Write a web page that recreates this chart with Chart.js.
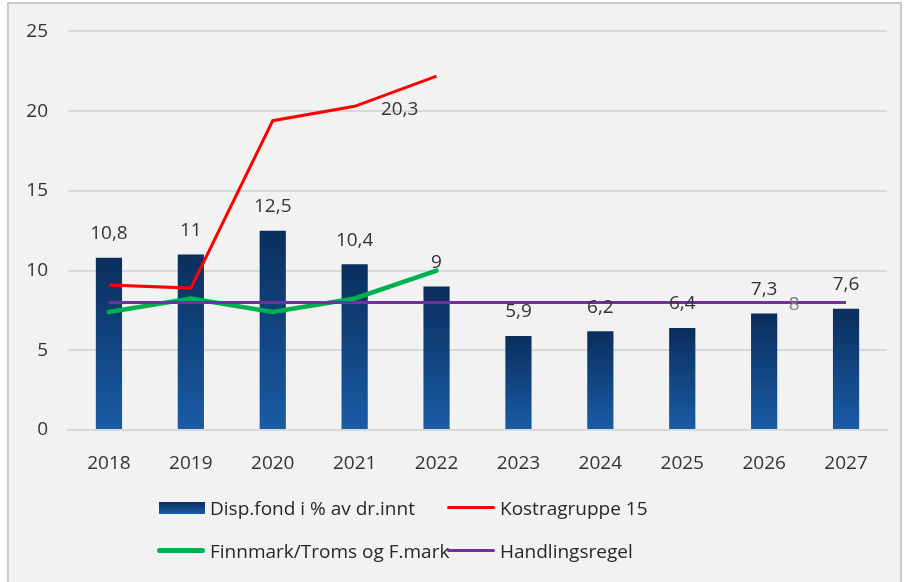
<!DOCTYPE html>
<html>
<head>
<meta charset="utf-8">
<script src="https://cdn.jsdelivr.net/npm/chart.js@4"></script>
<style>
  html, body { margin: 0; padding: 0; background: #ffffff; }
  body { width: 904px; height: 582px; position: relative; overflow: hidden; font-family: "Open Sans", sans-serif; }
  #frame { position: absolute; left: 7px; top: 2px; width: 891px; height: 600px; background: #f2f2f2; border: 2px solid #c9c9c9; }
  #chart-wrap { position: absolute; left: 0; top: 0; width: 904px; height: 582px; }
  #legend { position: absolute; left: 157px; top: 486px; display: grid; grid-template-columns: 290px auto; grid-auto-rows: 43px; color: #262626; font-size: 19px; }
  .item { display: flex; align-items: center; white-space: nowrap; }
  .swatch { width: 48px; margin-right: 5px; flex: none; }
</style>
</head>
<body>
<div id="frame"></div>
<div id="chart-wrap"><canvas id="chart" width="904" height="582"></canvas></div>
<div id="legend"></div>
<script>
// Chart data
const years = ['2018', '2019', '2020', '2021', '2022', '2023', '2024', '2025', '2026', '2027'];
const dispFond = [10.8, 11, 12.5, 10.4, 9, 5.9, 6.2, 6.4, 7.3, 7.6];
const kostra = [9.1, 8.9, 19.4, 20.3, 22.2, null, null, null, null, null];
const finnmark = [7.4, 8.25, 7.4, 8.25, 10, null, null, null, null, null];
const handlingsregel = [8, 8, 8, 8, 8, 8, 8, 8, 8, 8];
const yTicks = [0, 5, 10, 15, 20, 25];

const textColor = '#333333';
const tickFont = { family: 'Open Sans', size: 19 };

// Bar fill: dark at the top, lighter towards the base
function barGradient(context) {
    const chart = context.chart;
    const yScale = chart.scales.y;
    if (!yScale || !chart.chartArea) return '#0f4580';
    const value = context.raw;
    const top = yScale.getPixelForValue(value);
    const bottom = yScale.getPixelForValue(0);
    if (!isFinite(top) || !isFinite(bottom) || top === bottom) return '#0f4580';
    const g = chart.ctx.createLinearGradient(0, top, 0, bottom);
    g.addColorStop(0, '#0a2e5c');
    g.addColorStop(1, '#1a5ca6');
    return g;
}

function fmt(v) {
    return String(v).replace('.', ',');
}

// Draws the value labels that Excel showed
const valueLabels = {
    id: 'valueLabels',
    afterDatasetsDraw(chart) {
        const ctx = chart.ctx;
        ctx.save();
        ctx.font = '19px "Open Sans"';
        ctx.textAlign = 'center';
        ctx.textBaseline = 'middle';

        // bar labels
        const barMeta = chart.getDatasetMeta(0);
        ctx.fillStyle = textColor;
        barMeta.data.forEach((bar, i) => {
            ctx.fillText(fmt(dispFond[i]), bar.x, bar.y - 24);
        });

        // kostragruppe label at 2021
        const redMeta = chart.getDatasetMeta(1);
        const p = redMeta.data[3];
        ctx.fillText(fmt(kostra[3]), p.x + 45, p.y + 3);

        // handlingsregel label at 2026
        const purpleMeta = chart.getDatasetMeta(3);
        const q = purpleMeta.data[8];
        ctx.fillStyle = '#7f7f7f';
        ctx.fillText(fmt(handlingsregel[8]), q.x + 30, q.y + 2);
        ctx.restore();
    }
};

const chart = new Chart(document.getElementById('chart'), {
    data: {
        labels: years,
        datasets: [
            {
                type: 'bar',
                label: 'Disp.fond i % av dr.innt',
                data: dispFond,
                backgroundColor: barGradient,
                categoryPercentage: 1,
                barPercentage: 0.32,
                order: 4
            },
            {
                type: 'line',
                label: 'Kostragruppe 15',
                data: kostra,
                borderColor: '#ff0000',
                borderWidth: 3,
                pointRadius: 0,
                tension: 0,
                order: 2
            },
            {
                type: 'line',
                label: 'Finnmark/Troms og F.mark',
                data: finnmark,
                borderColor: '#00b050',
                borderWidth: 4.5,
                borderCapStyle: 'round',
                pointRadius: 0,
                tension: 0,
                order: 3
            },
            {
                type: 'line',
                label: 'Handlingsregel',
                data: handlingsregel,
                borderColor: '#7030a0',
                borderWidth: 3,
                pointRadius: 0,
                tension: 0,
                order: 1
            }
        ]
    },
    options: {
        responsive: false,
        animation: false,
        layout: { padding: { left: 0, top: 29, right: 17, bottom: 0 } },
        plugins: {
            legend: { display: false },
            tooltip: { enabled: false }
        },
        scales: {
            x: {
                grid: { display: false },
                border: { display: true, color: '#d9d9d9', width: 2 },
                ticks: { color: textColor, font: tickFont, padding: 14, maxRotation: 0 },
                afterFit(scale) { scale.height = 582 - 430; }
            },
            y: {
                min: 0,
                max: 25,
                afterBuildTicks(scale) { scale.ticks = yTicks.map(v => ({ value: v })); },
                grid: { color: '#d9d9d9', lineWidth: 2, drawTicks: false },
                border: { display: false },
                ticks: { color: textColor, font: tickFont, padding: 20 },
                afterFit(scale) { scale.width = 68; }
            }
        }
    },
    plugins: [valueLabels]
});

// Legend built from the datasets, laid out in two columns
const legendEl = document.getElementById('legend');
chart.data.datasets.forEach((ds, i) => {
    const item = document.createElement('div');
    item.className = 'item';
    const sw = document.createElement('span');
    sw.className = 'swatch';
    if (ds.type === 'bar') {
        sw.style.height = '12px';
        sw.style.width = '46px';
        sw.style.marginLeft = '2px';
        sw.style.background = 'linear-gradient(#0a2e5c, #1a5ca6)';
    } else {
        sw.style.height = ds.borderWidth + 'px';
        sw.style.background = ds.borderColor;
        sw.style.borderRadius = '3px';
    }
    const label = document.createElement('span');
    label.textContent = ds.label;
    item.appendChild(sw);
    item.appendChild(label);
    legendEl.appendChild(item);
});
</script>
</body>
</html>
